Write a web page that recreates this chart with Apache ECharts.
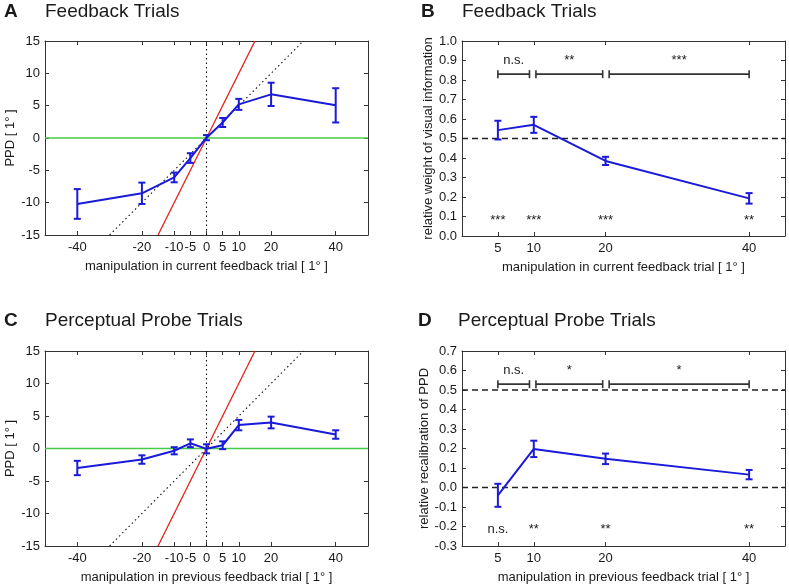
<!DOCTYPE html>
<html>
<head>
<meta charset="utf-8">
<script src="https://cdn.jsdelivr.net/npm/echarts@6/dist/echarts.min.js"></script>
<style>
html,body{margin:0;padding:0;background:#fff;}
#chart{width:789px;height:586px;}
</style>
</head>
<body>
<div id="chart"></div>
<script>
// ---------- data ----------
const manipAll = [-40, -20, -10, -5, 0, 5, 10, 20, 40];
const ppdFeedback = [-10.2, -8.55, -6.1, -3.1, 0.05, 2.4, 5.2, 6.75, 5.05];
const ppdFeedbackErr = [2.3, 1.65, 0.75, 0.75, 0.4, 0.7, 0.85, 1.8, 2.65];
const ppdProbe = [-3.0, -1.7, -0.35, 0.8, -0.05, 0.5, 3.6, 4.0, 2.15];
const ppdProbeErr = [1.1, 0.65, 0.55, 0.6, 0.7, 0.6, 0.8, 0.9, 0.65];

const manipAbs = [5, 10, 20, 40];
const weightVisual = [0.543, 0.570, 0.385, 0.193];
const weightVisualErr = [0.048, 0.041, 0.021, 0.027];
const recalib = [-0.04, 0.198, 0.147, 0.066];
const recalibErr = [0.059, 0.042, 0.027, 0.024];

const ticksAll = [-40, -20, -10, -5, 0, 5, 10, 20, 40];
const ticksAbs = [5, 10, 20, 40];

const refZero = [[-50, 0], [50, 0]];
const refVertical = [[0, -15], [0, 15]];
const refHalf = [[-30, -15], [30, 15]];
const refIdentity = [[-15, -15], [15, 15]];

const bracketSpans = [[5, 9.4], [10.3, 19.6], [20.5, 40]];
const bracketY_B = 0.83, bracketY_D = 0.53;
const bracketLabelsB = ['n.s.', '**', '***'];
const bracketLabelsD = ['n.s.', '*', '*'];
const bracketLabelY_B = 0.90, bracketLabelY_D = 0.60;
const sigB = ['***', '***', '***', '**'];
const sigD = ['n.s.', '**', '**', '**'];
const sigY_B = 0.078, sigY_D = -0.215;

// ---------- helpers ----------
const FONT = "'Liberation Sans', Arial, Helvetica, sans-serif";
const AX = '#333';
const TXT = '#1a1a1a';
const BLUE = '#1a1ad8';

const grids = [
  {left: 45, top: 41, width: 323, height: 194},
  {left: 462, top: 41, width: 323, height: 195},
  {left: 45, top: 351, width: 323, height: 195},
  {left: 462, top: 351, width: 323, height: 195}
];

const xAxes = [], yAxes = [], series = [];

function addAxes(gi, xcfg, ycfg) {
  const tick = {show: true, inside: true, length: 4, lineStyle: {color: AX, width: 1}};
  xAxes.push({
    gridIndex: gi, type: 'value', min: xcfg.min, max: xcfg.max, position: 'bottom',
    axisLine: {show: true, onZero: false, lineStyle: {color: AX, width: 1}},
    axisTick: Object.assign({}, tick, {customValues: xcfg.ticks}),
    axisLabel: {show: true, customValues: xcfg.ticks, margin: 6, color: TXT, fontSize: 13, fontFamily: FONT, hideOverlap: false},
    splitLine: {show: false},
    name: xcfg.name, nameLocation: 'middle', nameGap: 25,
    nameTextStyle: {color: TXT, fontSize: 13, fontFamily: FONT}
  });
  xAxes.push({
    gridIndex: gi, type: 'value', min: xcfg.min, max: xcfg.max, position: 'top',
    axisLine: {show: true, onZero: false, lineStyle: {color: AX, width: 1}},
    axisTick: Object.assign({}, tick, {customValues: xcfg.ticks}),
    axisLabel: {show: false}, splitLine: {show: false}
  });
  const ylab = {show: true, margin: 5, color: TXT, fontSize: 13, fontFamily: FONT, formatter: ycfg.fmt};
  yAxes.push({
    gridIndex: gi, type: 'value', min: ycfg.min, max: ycfg.max, interval: ycfg.interval, position: 'left',
    axisLine: {show: true, onZero: false, lineStyle: {color: AX, width: 1}},
    axisTick: tick, axisLabel: ylab, splitLine: {show: false},
    name: ycfg.name, nameLocation: 'middle', nameGap: ycfg.nameGap, nameRotate: 90,
    nameTextStyle: {color: TXT, fontSize: 13, fontFamily: FONT}
  });
  yAxes.push({
    gridIndex: gi, type: 'value', min: ycfg.min, max: ycfg.max, interval: ycfg.interval, position: 'right',
    axisLine: {show: true, onZero: false, lineStyle: {color: AX, width: 1}},
    axisTick: tick, axisLabel: {show: false}, splitLine: {show: false}
  });
}

function lineSeries(gi, data, color, width, type, z) {
  return {
    type: 'line', xAxisIndex: 2 * gi, yAxisIndex: 2 * gi, data: data, symbol: 'none',
    lineStyle: {color: color, width: width, type: type}, silent: true, z: z || 2, clip: true,
    animation: false
  };
}

function errSeries(gi, xs, ys, es) {
  return {
    type: 'custom', xAxisIndex: 2 * gi, yAxisIndex: 2 * gi, z: 6, silent: true,
    data: xs.map((x, i) => [x, ys[i] - es[i], ys[i] + es[i]]),
    renderItem: function (params, api) {
      const lo = api.coord([api.value(0), api.value(1)]);
      const hi = api.coord([api.value(0), api.value(2)]);
      const w = 3.5;
      const st = {stroke: BLUE, lineWidth: 2};
      return {type: 'group', children: [
        {type: 'line', shape: {x1: lo[0], y1: lo[1], x2: hi[0], y2: hi[1]}, style: st},
        {type: 'line', shape: {x1: lo[0] - w, y1: lo[1], x2: lo[0] + w, y2: lo[1]}, style: st},
        {type: 'line', shape: {x1: hi[0] - w, y1: hi[1], x2: hi[0] + w, y2: hi[1]}, style: st}
      ]};
    }
  };
}

function bracketSeries(gi, spans, y) {
  return {
    type: 'custom', xAxisIndex: 2 * gi, yAxisIndex: 2 * gi, z: 5, silent: true,
    data: spans.map(s => [s[0], s[1], y]),
    renderItem: function (params, api) {
      const a = api.coord([api.value(0), api.value(2)]);
      const b = api.coord([api.value(1), api.value(2)]);
      const h = 4;
      const st = {stroke: '#333', lineWidth: 1.6};
      return {type: 'group', children: [
        {type: 'line', shape: {x1: a[0], y1: a[1], x2: b[0], y2: b[1]}, style: st},
        {type: 'line', shape: {x1: a[0], y1: a[1] - h, x2: a[0], y2: a[1] + h}, style: st},
        {type: 'line', shape: {x1: b[0], y1: b[1] - h, x2: b[0], y2: b[1] + h}, style: st}
      ]};
    }
  };
}

function textSeries(gi, xs, y, labels) {
  return {
    type: 'custom', xAxisIndex: 2 * gi, yAxisIndex: 2 * gi, z: 5, silent: true,
    data: xs.map(x => [x, y]),
    renderItem: function (params, api) {
      const p = api.coord([api.value(0), api.value(1)]);
      return {type: 'text', x: p[0], y: p[1], style: {
        text: labels[params.dataIndex], align: 'center', verticalAlign: 'middle',
        fontSize: 13, fontFamily: FONT, fill: TXT
      }};
    }
  };
}

// ---------- axes ----------
const ppdY = {min: -15, max: 15, interval: 5, name: 'PPD [ 1° ]', nameGap: 28};
addAxes(0, {min: -50, max: 50, ticks: ticksAll, name: 'manipulation in current feedback trial [ 1° ]'}, ppdY);
addAxes(1, {min: 0, max: 45, ticks: ticksAbs, name: 'manipulation in current feedback trial [ 1° ]'},
  {min: 0, max: 1, interval: 0.1, name: 'relative weight of visual information', nameGap: 27, fmt: v => v.toFixed(1)});
addAxes(2, {min: -50, max: 50, ticks: ticksAll, name: 'manipulation in previous feedback trial [ 1° ]'}, ppdY);
addAxes(3, {min: 0, max: 45, ticks: ticksAbs, name: 'manipulation in previous feedback trial [ 1° ]'},
  {min: -0.3, max: 0.7, interval: 0.1, name: 'relative recalibration of PPD', nameGap: 31, fmt: v => (Math.abs(v) < 1e-9 ? 0 : v).toFixed(1)});

// ---------- panels A & C ----------
[[0, ppdFeedback, ppdFeedbackErr], [2, ppdProbe, ppdProbeErr]].forEach(([gi, ys, es]) => {
  series.push(lineSeries(gi, refZero, '#46cc46', 1.6, 'solid', 1));
  series.push(lineSeries(gi, refVertical, '#111', 1.1, [1.5, 3], 1));
  series.push(lineSeries(gi, refHalf, '#111', 1.1, [1.5, 3], 1));
  series.push(lineSeries(gi, refIdentity, '#e3221c', 1.3, 'solid', 2));
  series.push(lineSeries(gi, manipAll.map((x, i) => [x, ys[i]]), BLUE, 2, 'solid', 4));
  series.push(errSeries(gi, manipAll, ys, es));
});

// ---------- panel B ----------
series.push(lineSeries(1, [[0, 0.5], [45, 0.5]], '#222', 1.3, [6, 4], 1));
series.push(lineSeries(1, manipAbs.map((x, i) => [x, weightVisual[i]]), BLUE, 2, 'solid', 4));
series.push(errSeries(1, manipAbs, weightVisual, weightVisualErr));
series.push(bracketSeries(1, bracketSpans, bracketY_B));
series.push(textSeries(1, bracketSpans.map(s => (s[0] + s[1]) / 2), bracketLabelY_B, bracketLabelsB));
series.push(textSeries(1, manipAbs, sigY_B, sigB));

// ---------- panel D ----------
series.push(lineSeries(3, [[0, 0.5], [45, 0.5]], '#222', 1.3, [6, 4], 1));
series.push(lineSeries(3, [[0, 0], [45, 0]], '#222', 1.3, [6, 4], 1));
series.push(lineSeries(3, manipAbs.map((x, i) => [x, recalib[i]]), BLUE, 2, 'solid', 4));
series.push(errSeries(3, manipAbs, recalib, recalibErr));
series.push(bracketSeries(3, bracketSpans, bracketY_D));
series.push(textSeries(3, bracketSpans.map(s => (s[0] + s[1]) / 2), bracketLabelY_D, bracketLabelsD));
series.push(textSeries(3, manipAbs, sigY_D, sigD));

// ---------- titles ----------
function titleText(x, y, text, bold) {
  return {type: 'text', x: x, y: y, style: {text: text, fontSize: 19, fontWeight: bold ? 'bold' : 'normal',
    fontFamily: FONT, fill: TXT, verticalAlign: 'middle', align: 'left'}};
}
const graphic = [
  titleText(4, 12, 'A', true), titleText(45, 12, 'Feedback Trials', false),
  titleText(421, 12, 'B', true), titleText(462, 12, 'Feedback Trials', false),
  titleText(4, 321, 'C', true), titleText(45, 321, 'Perceptual Probe Trials', false),
  titleText(418, 321, 'D', true), titleText(458, 321, 'Perceptual Probe Trials', false)
];

const chart = echarts.init(document.getElementById('chart'), null, {renderer: 'canvas'});
chart.setOption({
  animation: false,
  backgroundColor: '#fff',
  grid: grids.map(g => Object.assign({outerBoundsMode: 'none', containLabel: false}, g)),
  xAxis: xAxes,
  yAxis: yAxes,
  series: series,
  graphic: graphic
});
</script>
</body>
</html>
